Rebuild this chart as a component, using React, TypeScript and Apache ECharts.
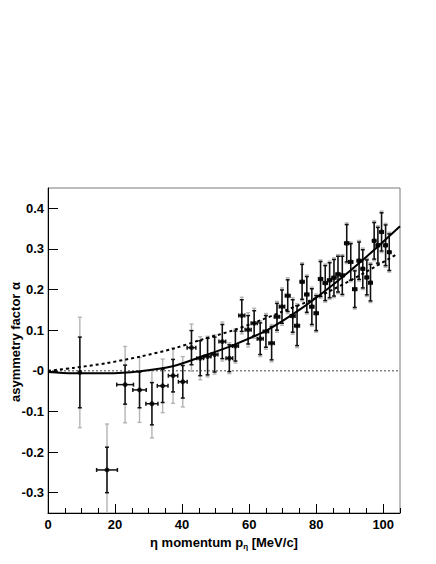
import React, { useEffect, useRef } from "react";
import * as echarts from "echarts";

// ---- data points ----
const pVals = [9.5, 17.6, 23.0, 27.3, 31.0, 34.2, 37.3, 40.2, 42.8, 45.4, 47.6, 49.7, 52.0, 54.1, 55.9, 57.8, 59.7, 61.5, 63.3, 65.0, 66.7, 68.3, 69.8, 71.5, 73.0, 74.3, 75.8, 77.2, 78.7, 80.0, 81.3, 82.7, 84.0, 85.3, 86.5, 87.8, 89.1, 90.3, 91.5, 92.8, 93.9, 95.1, 96.2, 97.3, 98.4, 99.5, 100.7, 101.8];
const alphaVals = [-0.004, -0.244, -0.034, -0.047, -0.081, -0.037, -0.012, -0.027, 0.057, 0.031, 0.035, 0.040, 0.072, 0.031, 0.061, 0.136, 0.101, 0.117, 0.079, 0.097, 0.068, 0.133, 0.158, 0.185, 0.135, 0.111, 0.219, 0.188, 0.158, 0.142, 0.226, 0.216, 0.223, 0.229, 0.238, 0.235, 0.314, 0.268, 0.201, 0.271, 0.251, 0.230, 0.217, 0.320, 0.309, 0.342, 0.309, 0.292];
const statErr = [0.087, 0.056, 0.048, 0.044, 0.052, 0.041, 0.040, 0.040, 0.042, 0.043, 0.045, 0.043, 0.042, 0.033, 0.037, 0.039, 0.035, 0.031, 0.039, 0.039, 0.041, 0.033, 0.041, 0.039, 0.040, 0.049, 0.043, 0.044, 0.044, 0.043, 0.043, 0.043, 0.043, 0.045, 0.044, 0.047, 0.046, 0.045, 0.045, 0.046, 0.047, 0.043, 0.045, 0.045, 0.044, 0.047, 0.050, 0.045];
const totErr = [0.136, 0.113, 0.094, 0.080, 0.084, 0.066, 0.068, 0.062, 0.058, 0.053, 0.050, 0.048, 0.048, 0.038, 0.042, 0.045, 0.042, 0.037, 0.044, 0.044, 0.046, 0.038, 0.046, 0.044, 0.045, 0.054, 0.047, 0.048, 0.048, 0.047, 0.047, 0.047, 0.047, 0.049, 0.048, 0.051, 0.050, 0.049, 0.049, 0.050, 0.051, 0.047, 0.049, 0.049, 0.048, 0.051, 0.054, 0.049];
const pErr = [0, 3.1, 2.5, 2.0, 1.8, 1.6, 1.4, 1.3, 1.3, 1.0, 1.0, 1.0, 1.0, 1.0, 0.9, 0.9, 0.9, 0.9, 0.9, 0.8, 0.8, 0.8, 0.8, 0.7, 0.7, 0.7, 0.6, 0.6, 0.6, 0.6, 0.6, 0.6, 0.6, 0.6, 0.6, 0.6, 0.6, 0.6, 0.6, 0.6, 0.5, 0.5, 0.5, 0.5, 0.5, 0.5, 0.5, 0.5];

// ---- curves ----
const solidP = [0, 7.5, 17.5, 27.5, 37.5, 45.5, 55.5, 65.5, 75.5, 85, 95, 105];
const solidA = [-0.003, -0.006, -0.006, -0.001, 0.012, 0.034, 0.064, 0.101, 0.153, 0.212, 0.281, 0.356];
const dashP = [0, 7.5, 17.5, 27.5, 37.5, 45.5, 55, 62, 70, 78.5, 85, 95, 104];
const dashA = [0, 0.007, 0.019, 0.035, 0.055, 0.076, 0.099, 0.120, 0.146, 0.174, 0.200, 0.244, 0.287];
const zeroP = [0, 105];
const zeroA = [0, 0];

// ---- axes ----
const xMin = 0;
const xMax = 105;
const xMajorStep = 20;
const xMinorStep = 5;
const yMin = -0.35;
const yMax = 0.45;
const xTickVals = [0, 20, 40, 60, 80, 100];
const yTickVals = [-0.3, -0.2, -0.1, 0, 0.1, 0.2, 0.3, 0.4];
const yTickLabels = ["-0.3", "-0.2", "-0.1", "-0", "0.1", "0.2", "0.3", "0.4"];

const FONT = '"Liberation Sans", Arial, Helvetica, sans-serif';

const rows = pVals.map((p, i) => [p, alphaVals[i], statErr[i], totErr[i], pErr[i]]);

function vBar(which: number, color: string, width: number) {
  return (params: any, api: any) => {
    const x = api.value(0);
    const y = api.value(1);
    const e = api.value(which);
    const top = api.coord([x, y + e]);
    const bot = api.coord([x, y - e]);
    const style = { stroke: color, lineWidth: width, fill: null };
    return {
      type: "group",
      children: [
        { type: "line", shape: { x1: top[0], y1: top[1], x2: bot[0], y2: bot[1] }, style },
        { type: "line", shape: { x1: top[0] - 2, y1: top[1], x2: top[0] + 2, y2: top[1] }, style },
        { type: "line", shape: { x1: bot[0] - 2, y1: bot[1], x2: bot[0] + 2, y2: bot[1] }, style },
      ],
    };
  };
}

function hBar(params: any, api: any) {
  const x = api.value(0);
  const y = api.value(1);
  const e = api.value(4);
  if (!e) return { type: "group", children: [] };
  const l = api.coord([x - e, y]);
  const r = api.coord([x + e, y]);
  const style = { stroke: "#111", lineWidth: 1.5, fill: null };
  return {
    type: "group",
    children: [
      { type: "line", shape: { x1: l[0], y1: l[1], x2: r[0], y2: r[1] }, style },
      { type: "line", shape: { x1: l[0], y1: l[1] - 2, x2: l[0], y2: l[1] + 2 }, style },
      { type: "line", shape: { x1: r[0], y1: r[1] - 2, x2: r[0], y2: r[1] + 2 }, style },
    ],
  };
}

export default function App() {
  const ref = useRef<HTMLDivElement>(null);
  useEffect(() => {
    if (!ref.current) return;
    const chart = echarts.init(ref.current, null, { renderer: "svg" });
    const labelStyle = { color: "#000", fontFamily: FONT, fontWeight: "bold", fontSize: 13 };
    const gridRect = { left: 48, top: 188, width: 352, height: 325 };
    chart.setOption({
      animation: false,
      grid: [
        {
          ...gridRect,
          show: true,
          borderColor: "#7a7a7a",
          borderWidth: 1,
          backgroundColor: "transparent",
        },
        { ...gridRect, show: false },
      ],
      xAxis: [
        {
          type: "value",
          gridIndex: 0,
          min: xMin,
          max: xMax,
          interval: xMajorStep,
          axisLine: { show: true, onZero: false, lineStyle: { color: "#000", width: 1 } },
          axisTick: { show: true, inside: true, length: 9, customValues: xTickVals, lineStyle: { color: "#000" } },
          axisLabel: { ...labelStyle, margin: 5, customValues: xTickVals, formatter: (v: number) => String(v) },
          splitLine: { show: false },
          name: "{b|η momentum p}{s|η}{b| [MeV/c]}",
          nameLocation: "middle",
          nameGap: 20,
          nameTextStyle: {
            rich: {
              b: { fontFamily: FONT, fontWeight: "bold", fontSize: 13, color: "#000" },
              s: { fontFamily: FONT, fontWeight: "bold", fontSize: 8, color: "#000", padding: [9, 0, 0, 0] },
            },
          },
        },
        {
          type: "value",
          gridIndex: 1,
          min: xMin,
          max: xMax,
          interval: xMinorStep,
          position: "bottom",
          axisLine: { show: false, onZero: false },
          axisTick: { show: true, inside: true, length: 5, lineStyle: { color: "#000", width: 1 } },
          axisLabel: { show: false },
          splitLine: { show: false },
          silent: true,
        },
      ],
      yAxis: [
        {
          type: "value",
          gridIndex: 0,
          min: yMin,
          max: yMax,
          axisLine: { show: true, onZero: false, lineStyle: { color: "#000", width: 1 } },
          axisTick: { show: true, inside: true, length: 10, customValues: yTickVals, lineStyle: { color: "#000" } },
          axisLabel: {
            ...labelStyle,
            margin: 4,
            customValues: yTickVals,
            formatter: (v: number) => {
              let best = 0;
              yTickVals.forEach((t, i) => {
                if (Math.abs(t - v) < Math.abs(yTickVals[best] - v)) best = i;
              });
              return yTickLabels[best];
            },
          },
          splitLine: { show: false },
        },
        {
          type: "value",
          gridIndex: 1,
          min: 0,
          max: 1,
          show: false,
        },
      ],
      graphic: [
        {
          type: "text",
          x: 15,
          y: 342,
          rotation: Math.PI / 2,
          style: {
            text: "asymmetry factor α",
            font: 'bold 13px "Liberation Sans", Arial, sans-serif',
            fill: "#000",
            align: "center",
            verticalAlign: "middle",
            textAlign: "center",
            textVerticalAlign: "middle",
          },
        },
      ],
      series: [
        {
          type: "line",
          data: zeroP.map((p, i) => [p, zeroA[i]]),
          showSymbol: false,
          lineStyle: { color: "#444", width: 1, type: [2, 2] },
          z: 1,
          silent: true,
        },
        {
          type: "custom",
          data: rows,
          encode: { x: 0, y: 1 },
          renderItem: vBar(3, "#b4b4b4", 1.4),
          clip: true,
          z: 2,
          silent: true,
        },
        {
          type: "custom",
          data: rows,
          encode: { x: 0, y: 1 },
          renderItem: vBar(2, "#111", 1.5),
          clip: true,
          z: 3,
          silent: true,
        },
        {
          type: "custom",
          data: rows,
          encode: { x: 0, y: 1 },
          renderItem: hBar,
          clip: true,
          z: 3,
          silent: true,
        },
        {
          type: "line",
          data: dashP.map((p, i) => [p, dashA[i]]),
          showSymbol: false,
          smooth: 0.3,
          lineStyle: { color: "#000", width: 2, type: [3, 3] },
          z: 4,
          silent: true,
        },
        {
          type: "line",
          data: solidP.map((p, i) => [p, solidA[i]]),
          showSymbol: false,
          smooth: 0.3,
          lineStyle: { color: "#000", width: 2 },
          z: 4,
          silent: true,
        },
        {
          type: "scatter",
          data: rows.map((r) => [r[0], r[1]]),
          symbol: "circle",
          symbolSize: 5,
          itemStyle: { color: "#000" },
          z: 5,
          silent: true,
        },
      ],
    });
    return () => chart.dispose();
  }, []);
  return (
    <div
      ref={ref}
      style={{ position: "fixed", left: 0, top: 0, width: 436, height: 564, background: "#fff" }}
    />
  );
}
